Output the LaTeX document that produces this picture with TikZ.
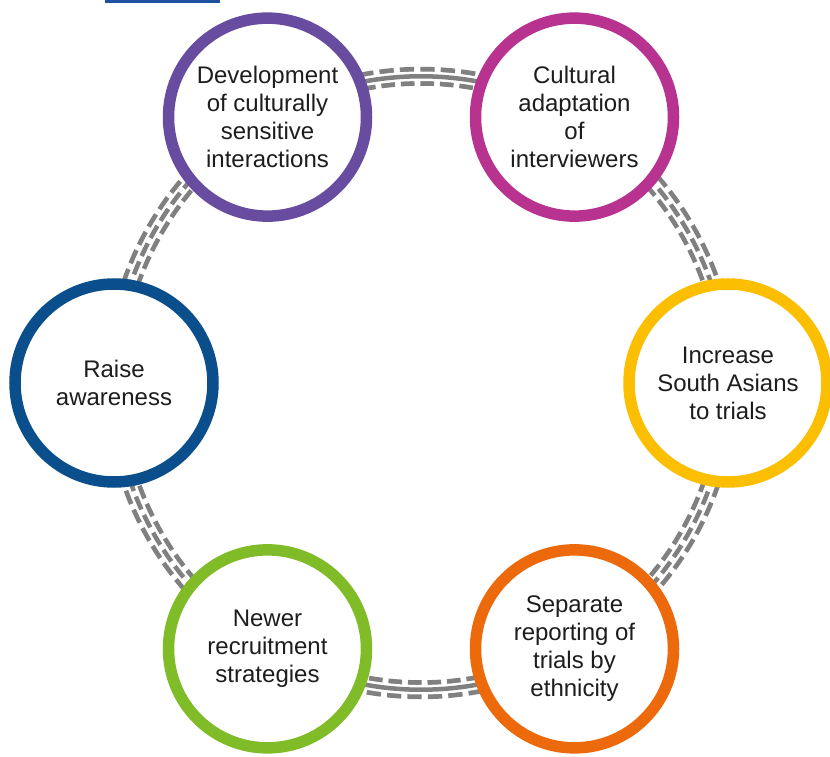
\documentclass[tikz,border=0pt]{standalone}
\usepackage{fontspec}
\setmainfont{Liberation Sans}
\usetikzlibrary{backgrounds}
\definecolor{devpurple}{RGB}{104,76,160}
\definecolor{cultmagenta}{RGB}{184,51,143}
\definecolor{incryellow}{RGB}{252,190,0}
\definecolor{raiseblue}{RGB}{10,79,140}
\definecolor{newgreen}{RGB}{128,188,40}
\definecolor{seporange}{RGB}{236,106,12}
\definecolor{linkgray}{RGB}{128,128,128}
\definecolor{textgray}{RGB}{30,28,28}
\definecolor{rulebl}{RGB}{30,80,160}
\tikzset{
stage/.style={circle, draw, fill=white, line width=11.5pt, minimum size=198pt, inner sep=0pt, align=center, text=textgray, font=\fontsize{24}{28}\selectfont}, % ring with its label
linkbend/.style={bend left=30, looseness=0.91}, % follows the big circle
}
% three grey lines from one ring to the next; #3 is the middle line
\newcommand{\linkarc}[3]{%
  \draw[linkgray, line width=19pt, dash pattern=on 14pt off 6pt] (#1.center) to[linkbend] (#2.center);
  \draw[white, line width=9.5pt] (#1.center) to[linkbend] (#2.center);
  \draw[linkgray, line width=4.5pt, #3] (#1.center) to[linkbend] (#2.center);
}

\begin{document}
\begin{tikzpicture}[x=1pt, y=1pt]
    \useasboundingbox (0,0) rectangle (830,756);
    \fill[rulebl] (105,753) rectangle (220,756);
    \coordinate (hub) at (421,373);
    \node[stage, draw=devpurple] (dev) at ([shift={(120:307)}]hub) {Development\\of culturally\\sensitive\\interactions};
    \node[stage, draw=cultmagenta] (cult) at ([shift={(60:307)}]hub) {Cultural\\adaptation\\of\\interviewers};
    \node[stage, draw=incryellow] (incr) at ([shift={(0:307)}]hub) {Increase\\South Asians\\to trials};
    \node[stage, draw=seporange] (sep) at ([shift={(-60:307)}]hub) {Separate\\reporting of\\trials by\\ethnicity};
    \node[stage, draw=newgreen] (newer) at ([shift={(-120:307)}]hub) {Newer\\recruitment\\strategies};
    \node[stage, draw=raiseblue] (raise) at ([shift={(180:307)}]hub) {Raise\\awareness};
    \begin{scope}[on background layer]
        \linkarc{dev}{cult}{}
        \linkarc{cult}{incr}{dash pattern=on 14pt off 6pt, dash phase=9pt}
        \linkarc{incr}{sep}{dash pattern=on 14pt off 6pt, dash phase=9pt}
        \linkarc{sep}{newer}{}
        \linkarc{newer}{raise}{dash pattern=on 14pt off 6pt, dash phase=9pt}
        \linkarc{raise}{dev}{dash pattern=on 14pt off 6pt, dash phase=9pt}
    \end{scope}
\end{tikzpicture}
\end{document}
